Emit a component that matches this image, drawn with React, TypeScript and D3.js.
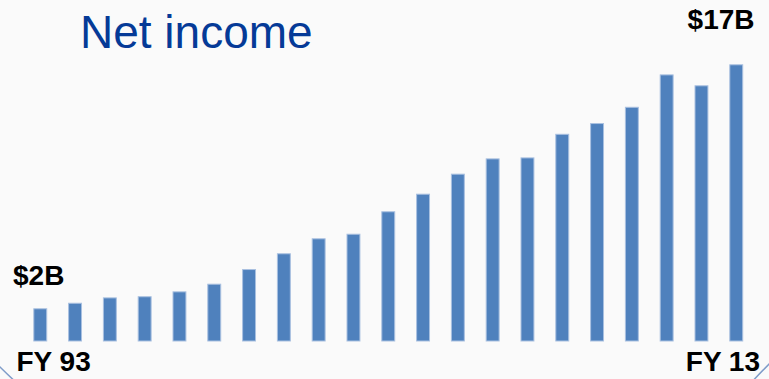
import React from "react";
import * as d3 from "d3";

const years = [
  "FY93", "FY94", "FY95", "FY96", "FY97", "FY98", "FY99", "FY00", "FY01", "FY02", "FY03",
  "FY04", "FY05", "FY06", "FY07", "FY08", "FY09", "FY10", "FY11", "FY12", "FY13",
];
const netIncome = [
  2.01, 2.35, 2.68, 2.75, 3.05, 3.52, 4.42, 5.39, 6.31, 6.59, 7.97,
  9.05, 10.28, 11.22, 11.28, 12.73, 13.39, 14.39, 16.38, 15.71, 17.0,
];
const title = "Net income";
const startValueLabel = "$2B";
const endValueLabel = "$17B";
const startYearLabel = "FY 93";
const endYearLabel = "FY 13";

const W = 769;
const H = 379;

export default function App() {
  const x = d3
    .scaleBand<string>()
    .domain(years)
    .range([22.86, 753.66])
    .paddingInner(0.6)
    .paddingOuter(0.3);
  const y = d3.scaleLinear().domain([0, 17]).range([341, 64.3]);

  const font = "Arial, 'Liberation Sans', sans-serif";

  return (
    <svg
      width={W}
      height={H}
      style={{ position: "absolute", left: 0, top: 0 }}
      xmlns="http://www.w3.org/2000/svg"
    >
      <rect x={0} y={0} width={W} height={H} fill="#fafafa" />
      <path
        d="M -6 361 Q 7 374 20 386"
        fill="none"
        stroke="#7f9cc9"
        strokeWidth={1.5}
      />
      <path
        d="M 776 357 Q 762 371 748 386"
        fill="none"
        stroke="#7f9cc9"
        strokeWidth={1.5}
      />
      <text
        x={80}
        y={47.5}
        fontFamily={font}
        fontSize={46}
        fill="#053a97"
      >
        {title}
      </text>
      <g>
        {years.map((yr, i) => (
          <rect
            key={yr}
            x={(x(yr) as number) + 0.5}
            y={y(netIncome[i]) + 0.5}
            width={x.bandwidth() - 1}
            height={y(0) - y(netIncome[i]) - 0.5}
            fill="#4f81bd"
            stroke="#a9c0e0"
            strokeWidth={1}
          />
        ))}
      </g>
      <text x={13} y={284.5} fontFamily={font} fontWeight="bold" fontSize={28} fill="#000">
        {startValueLabel}
      </text>
      <text
        x={754.5}
        y={28.8}
        textAnchor="end"
        fontFamily={font}
        fontWeight="bold"
        fontSize={28}
        fill="#000"
      >
        {endValueLabel}
      </text>
      <text x={16.5} y={371} fontFamily={font} fontWeight="bold" fontSize={28} fill="#000">
        {startYearLabel}
      </text>
      <text
        x={760}
        y={371}
        textAnchor="end"
        fontFamily={font}
        fontWeight="bold"
        fontSize={28}
        fill="#000"
      >
        {endYearLabel}
      </text>
    </svg>
  );
}
